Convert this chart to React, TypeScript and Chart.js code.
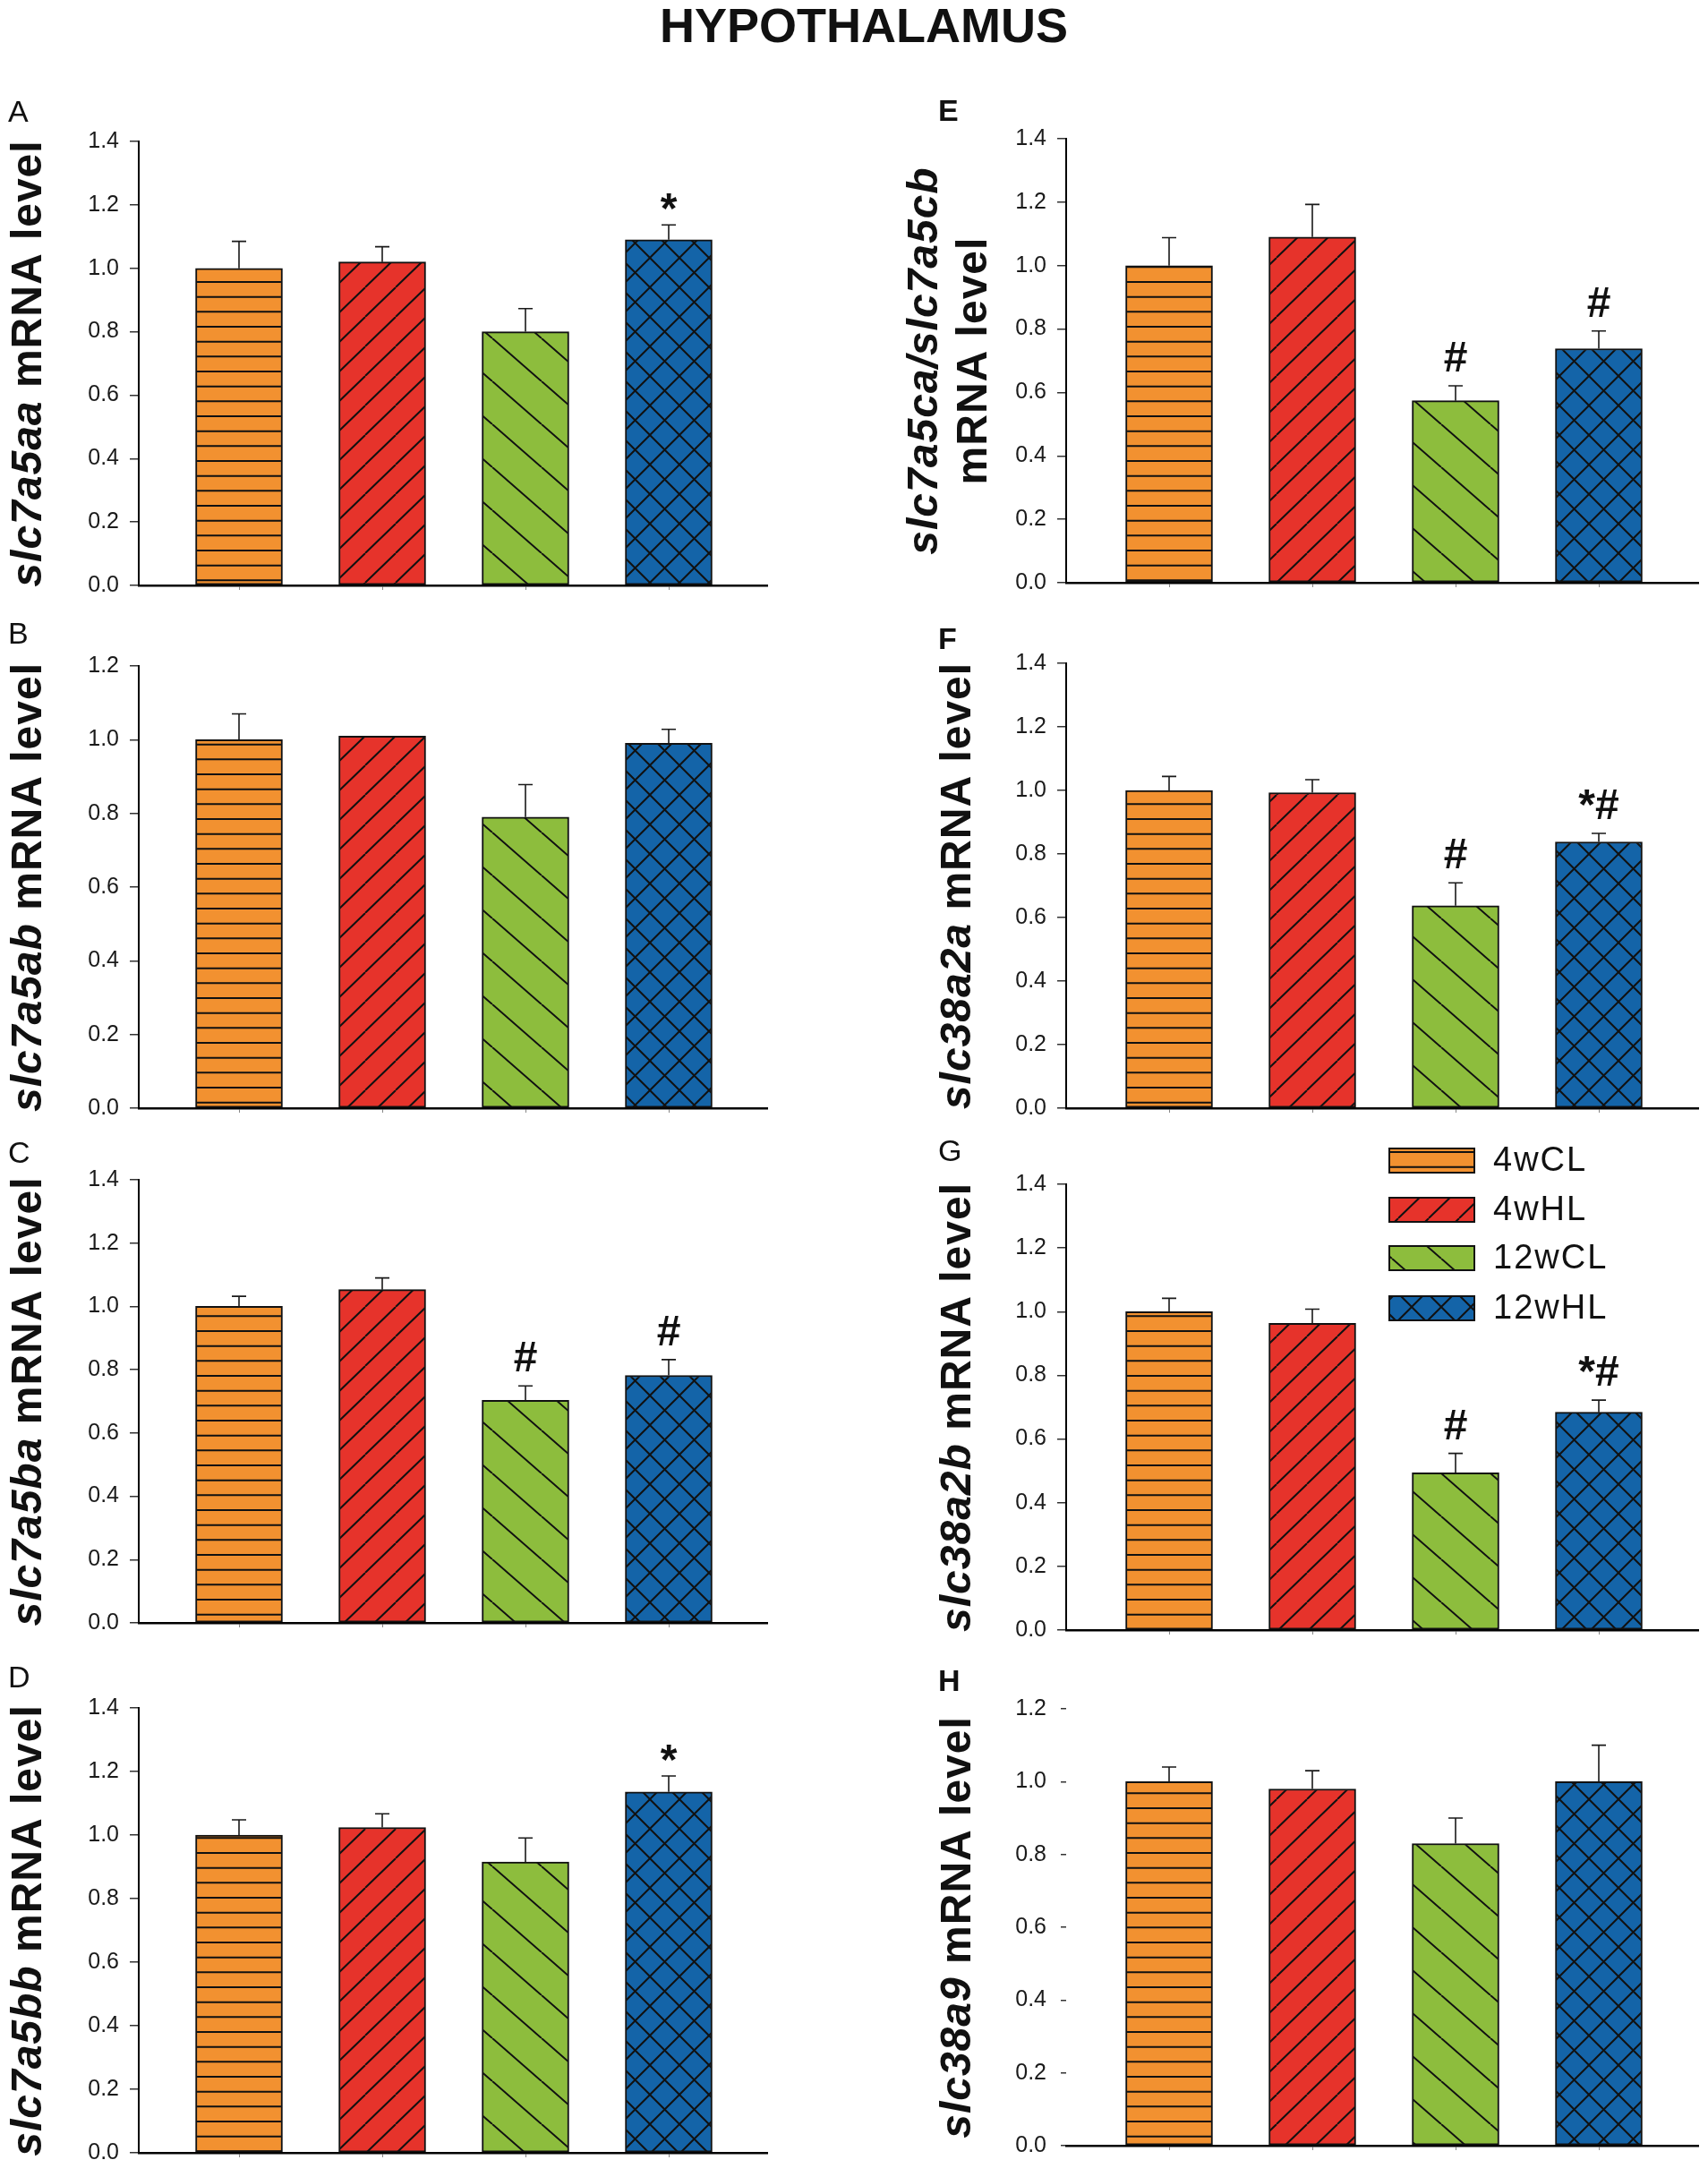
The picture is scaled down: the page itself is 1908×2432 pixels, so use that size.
import React, { useEffect, useRef } from 'react';
import { Chart, registerables } from 'chart.js';

Chart.register(...registerables);

const FONT = "'Liberation Sans', Arial, Helvetica, sans-serif";

// groups, in bar order
const groups = ['4wCL', '4wHL', '12wCL', '12wHL'];
const groupX = [1, 2, 3, 4];
const groupColors = ['#f29130', '#e6332b', '#8dbd3d', '#1464a8'];

const ticksTo14 = [0, 0.2, 0.4, 0.6, 0.8, 1.0, 1.2, 1.4];
const ticksTo12 = [0, 0.2, 0.4, 0.6, 0.8, 1.0, 1.2];

// A slc7a5aa
const slc7a5aaMean = [1.0, 1.02, 0.8, 1.09];
const slc7a5aaSem = [0.085, 0.048, 0.073, 0.047];
const slc7a5aaSig = ['', '', '', '*'];
// B slc7a5ab
const slc7a5abMean = [1.0, 1.01, 0.79, 0.99];
const slc7a5abSem = [0.07, 0.0, 0.088, 0.038];
const slc7a5abSig = ['', '', '', ''];
// C slc7a5ba
const slc7a5baMean = [1.0, 1.053, 0.703, 0.782];
const slc7a5baSem = [0.032, 0.037, 0.046, 0.05];
const slc7a5baSig = ['', '', '#', '#'];
// D slc7a5bb
const slc7a5bbMean = [1.0, 1.024, 0.915, 1.136];
const slc7a5bbSem = [0.048, 0.043, 0.076, 0.05];
const slc7a5bbSig = ['', '', '', '*'];
// E slc7a5ca/slc7a5cb
const slc7a5cMean = [1.0, 1.09, 0.574, 0.738];
const slc7a5cSem = [0.088, 0.103, 0.047, 0.056];
const slc7a5cSig = ['', '', '#', '#'];
// F slc38a2a
const slc38a2aMean = [1.0, 0.993, 0.637, 0.838];
const slc38a2aSem = [0.044, 0.041, 0.072, 0.027];
const slc38a2aSig = ['', '', '#', '*#'];
// G slc38a2b
const slc38a2bMean = [1.0, 0.963, 0.494, 0.684];
const slc38a2bSem = [0.042, 0.045, 0.061, 0.038];
const slc38a2bSig = ['', '', '#', '*#'];
// H slc38a9
const slc38a9Mean = [1.0, 0.98, 0.83, 1.0];
const slc38a9Sem = [0.04, 0.05, 0.07, 0.1];
const slc38a9Sig = ['', '', '', ''];

type Seg = { text: string; italic: boolean };

type Panel = {
  letter: string;
  label: Seg[][];
  mean: number[];
  sem: number[];
  sig: string[];
  ticks: number[];
  col: number;
  top: number; // canvas top (page px)
  yTop: number; // pixel of the highest tick
  yZero: number; // pixel of 0
  letterY: number;
  boldLetter: boolean;
  yLine: boolean;
  legend?: boolean;
};

// column geometry (page px)
const columns = [
  { left: 0, width: 950, axisX: 155, axisEnd: 857, firstOffset: 112, letterX: 9, labelX: [46] },
  { left: 950, width: 958, axisX: 1191, axisEnd: 1897, firstOffset: 115, letterX: 1048, labelX: [1084] },
];
const BAR_STEP = 160;

const gene = (name: string): Seg[][] => [[{ text: name, italic: true }, { text: ' mRNA level', italic: false }]];

const panels: Panel[] = [
  { letter: 'A', label: gene('slc7a5aa'), mean: slc7a5aaMean, sem: slc7a5aaSem, sig: slc7a5aaSig, ticks: ticksTo14, col: 0, top: 90, yTop: 158, yZero: 664, letterY: 112, boldLetter: false, yLine: true },
  { letter: 'B', label: gene('slc7a5ab'), mean: slc7a5abMean, sem: slc7a5abSem, sig: slc7a5abSig, ticks: ticksTo12, col: 0, top: 690, yTop: 744, yZero: 1248, letterY: 695, boldLetter: false, yLine: true },
  { letter: 'C', label: gene('slc7a5ba'), mean: slc7a5baMean, sem: slc7a5baSem, sig: slc7a5baSig, ticks: ticksTo14, col: 0, top: 1262, yTop: 1318, yZero: 1823, letterY: 1275, boldLetter: false, yLine: true },
  { letter: 'D', label: gene('slc7a5bb'), mean: slc7a5bbMean, sem: slc7a5bbSem, sig: slc7a5bbSig, ticks: ticksTo14, col: 0, top: 1845, yTop: 1908, yZero: 2415, letterY: 1861, boldLetter: false, yLine: true },
  {
    letter: 'E',
    label: [[{ text: 'slc7a5ca/slc7a5cb', italic: true }], [{ text: 'mRNA level', italic: false }]],
    mean: slc7a5cMean, sem: slc7a5cSem, sig: slc7a5cSig, ticks: ticksTo14, col: 1, top: 90, yTop: 155, yZero: 661, letterY: 111, boldLetter: true, yLine: true,
  },
  { letter: 'F', label: gene('slc38a2a'), mean: slc38a2aMean, sem: slc38a2aSem, sig: slc38a2aSig, ticks: ticksTo14, col: 1, top: 690, yTop: 741, yZero: 1248, letterY: 701, boldLetter: true, yLine: true },
  { letter: 'G', label: gene('slc38a2b'), mean: slc38a2bMean, sem: slc38a2bSem, sig: slc38a2bSig, ticks: ticksTo14, col: 1, top: 1262, yTop: 1323, yZero: 1831, letterY: 1273, boldLetter: false, yLine: true, legend: true },
  { letter: 'H', label: gene('slc38a9'), mean: slc38a9Mean, sem: slc38a9Sem, sig: slc38a9Sig, ticks: ticksTo12, col: 1, top: 1845, yTop: 1909, yZero: 2411, letterY: 1865, boldLetter: true, yLine: false },
];

// fill patterns: horizontal lines, "/" lines, "\" lines, cross-hatch
function makePattern(ctx: CanvasRenderingContext2D, kind: number): CanvasPattern {
  const sizes = [[8, 50], [34, 33], [55, 48], [33, 33]];
  const [w, h] = sizes[kind];
  const tile = document.createElement('canvas');
  tile.width = w;
  tile.height = h;
  const t = tile.getContext('2d') as CanvasRenderingContext2D;
  t.fillStyle = groupColors[kind];
  t.fillRect(0, 0, w, h);
  t.strokeStyle = '#111';
  t.lineWidth = 2;
  t.beginPath();
  if (kind === 0) {
    for (const y of [8.3, 25, 41.7]) {
      t.moveTo(0, y);
      t.lineTo(w, y);
    }
  }
  if (kind === 1 || kind === 3) {
    for (const k of [-1, 0, 1]) {
      t.moveTo(k * w, h);
      t.lineTo(k * w + w, 0);
    }
  }
  if (kind === 2 || kind === 3) {
    for (const k of [-1, 0, 1]) {
      t.moveTo(k * w, 0);
      t.lineTo(k * w + w, h);
    }
  }
  t.stroke();
  return ctx.createPattern(tile, 'repeat') as CanvasPattern;
}

const PanelChart: React.FC<{ p: Panel }> = ({ p }) => {
  const chartRef = useRef<HTMLCanvasElement>(null);
  const geo = columns[p.col];
  const width = geo.width;
  const height = p.yZero - p.top + 17;

  useEffect(() => {
    if (!chartRef.current) return;
    const ctx = chartRef.current.getContext('2d');
    if (!ctx) return;

    const patterns = groups.map((_, i) => makePattern(ctx, i));
    const xMin = 1 - geo.firstOffset / BAR_STEP;
    const xMax = xMin + (geo.axisEnd - geo.axisX) / BAR_STEP;
    const yMax = p.ticks[p.ticks.length - 1];
    const xAxisH = 8;

    const decor = {
      id: 'panelDecor',
      afterDatasetsDraw(chart: any) {
        const c = chart.ctx as CanvasRenderingContext2D;
        const yScale = chart.scales.y;
        const meta = chart.getDatasetMeta(0);
        c.save();
        meta.data.forEach((bar: any, i: number) => {
          const x = bar.x;
          const yErr = yScale.getPixelForValue(p.mean[i] + p.sem[i]);
          if (p.sem[i] > 0) {
            c.strokeStyle = '#1a1a1a';
            c.lineWidth = 1.6;
            c.beginPath();
            c.moveTo(x, bar.y);
            c.lineTo(x, yErr);
            c.moveTo(x - 8, yErr);
            c.lineTo(x + 8, yErr);
            c.stroke();
          }
          const s = p.sig[i];
          if (s) {
            c.fillStyle = '#111';
            c.font = `bold 48px ${FONT}`;
            c.textAlign = 'center';
            c.textBaseline = 'alphabetic';
            c.fillText(s, x, yErr - (s === '*' ? 2 : 16));
          }
        });
        c.restore();
      },
      afterDraw(chart: any) {
        const c = chart.ctx as CanvasRenderingContext2D;
        const area = chart.chartArea;
        c.save();
        // panel letter
        c.fillStyle = '#111';
        c.font = `${p.boldLetter ? 'bold ' : ''}34px ${FONT}`;
        c.textAlign = 'left';
        c.textBaseline = 'alphabetic';
        c.fillText(p.letter, geo.letterX - geo.left, p.letterY - p.top + 24);

        // y axis title, rotated, italic gene name
        const cy = (area.top + area.bottom) / 2;
        const baseX =
          p.label.length === 1 ? [geo.labelX[0] - geo.left] : [1047 - geo.left, 1102 - geo.left];
        p.label.forEach((line, li) => {
          c.save();
          c.translate(baseX[li], cy);
          c.rotate(-Math.PI / 2);
          (c as any).letterSpacing = '1px';
          let total = 0;
          line.forEach((sg) => {
            c.font = `${sg.italic ? 'italic ' : ''}bold 48px ${FONT}`;
            total += c.measureText(sg.text).width;
          });
          let pos = -total / 2;
          c.textAlign = 'left';
          c.textBaseline = 'alphabetic';
          line.forEach((sg) => {
            c.font = `${sg.italic ? 'italic ' : ''}bold 48px ${FONT}`;
            c.fillText(sg.text, pos, 0);
            pos += c.measureText(sg.text).width;
          });
          c.restore();
        });

        // legend (panel G)
        if (p.legend) {
          const boxY = [1283, 1338, 1392, 1448];
          groups.forEach((g, i) => {
            const bx = 1552 - geo.left;
            const by = boxY[i] - p.top;
            c.fillStyle = patterns[i];
            c.fillRect(bx, by, 95, 27);
            c.strokeStyle = '#111';
            c.lineWidth = 2;
            c.strokeRect(bx, by, 95, 27);
            c.save();
            (c as any).letterSpacing = '2px';
            c.fillStyle = '#111';
            c.font = `38px ${FONT}`;
            c.textAlign = 'left';
            c.textBaseline = 'middle';
            c.fillText(g, 1668 - geo.left, by + 15);
            c.restore();
          });
        }
        c.restore();
      },
    };

    const chart = new Chart(ctx, {
      type: 'bar',
      data: {
        datasets: [
          {
            data: p.mean.map((v, i) => ({ x: groupX[i], y: v })),
            backgroundColor: patterns,
            borderColor: '#111',
            borderWidth: 2,
            borderSkipped: false,
            barThickness: 97,
          } as any,
        ],
      },
      options: {
        responsive: false,
        animation: false,
        devicePixelRatio: 1,
        layout: {
          padding: {
            left: 0,
            top: p.yTop - p.top,
            right: geo.width - (geo.axisEnd - geo.left),
            bottom: height - (p.yZero - p.top) - xAxisH,
          },
        },
        plugins: {
          legend: { display: false },
          tooltip: { enabled: false },
          title: { display: false },
        },
        scales: {
          x: {
            type: 'linear',
            min: xMin,
            max: xMax,
            offset: false,
            afterBuildTicks: (s: any) => {
              s.ticks = groupX.map((v) => ({ value: v }));
            },
            afterFit: (s: any) => {
              s.height = xAxisH;
            },
            ticks: { display: false },
            grid: {
              display: true,
              offset: false,
              drawOnChartArea: false,
              drawTicks: true,
              tickLength: 5,
              color: '#888',
              lineWidth: 1,
            },
            border: { display: true, color: '#000', width: 2.5 },
          },
          y: {
            min: 0,
            max: yMax,
            afterBuildTicks: (s: any) => {
              s.ticks = p.ticks.map((v) => ({ value: v }));
            },
            afterFit: (s: any) => {
              s.width = geo.axisX - geo.left;
            },
            ticks: {
              callback: (v: any) => Number(v).toFixed(1),
              font: { family: FONT, size: 25 },
              color: '#1a1a1a',
              padding: p.yLine ? 12 : 16,
            },
            grid: {
              display: true,
              drawOnChartArea: false,
              drawTicks: true,
              tickLength: p.yLine ? 10 : 6,
              color: '#333',
              lineWidth: 1.5,
            },
            border: { display: p.yLine, color: '#000', width: 2 },
          },
        },
      } as any,
      plugins: [decor],
    });

    return () => {
      chart.destroy();
    };
  }, []);

  return (
    <canvas
      ref={chartRef}
      width={width}
      height={height}
      style={{ position: 'absolute', left: geo.left, top: p.top, width, height }}
    />
  );
};

const App: React.FC = () => {
  return (
    <div
      style={{
        position: 'absolute',
        left: 0,
        top: 0,
        width: 1908,
        height: 2432,
        overflow: 'hidden',
        background: '#fff',
      }}
    >
      <div
        style={{
          position: 'absolute',
          left: 465,
          top: 1,
          width: 1000,
          textAlign: 'center',
          fontFamily: FONT,
          fontWeight: 'bold',
          fontSize: 54,
          lineHeight: 1,
          color: '#111',
        }}
      >
        HYPOTHALAMUS
      </div>
      {panels.map((p) => (
        <PanelChart key={p.letter} p={p} />
      ))}
    </div>
  );
};

export default App;
